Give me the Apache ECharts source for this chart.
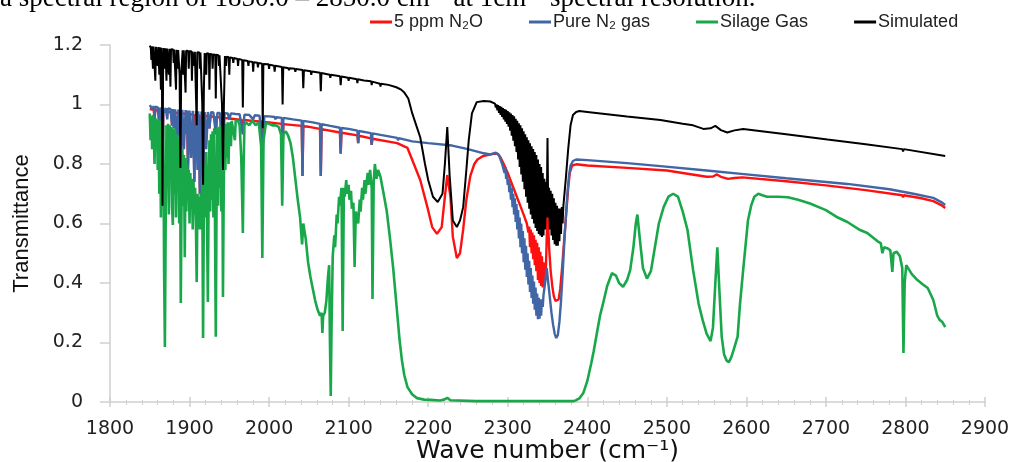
<!DOCTYPE html>
<html>
<head>
<meta charset="utf-8">
<script src="https://cdn.jsdelivr.net/npm/echarts@6/dist/echarts.min.js"></script>
<style>
  html, body { margin: 0; padding: 0; background: #fff; }
  #chart { width: 1015px; height: 462px; }
</style>
</head>
<body>
<div id="chart"></div>
<script>
// series names (legend order)
const names = ['5 ppm N₂O', 'Pure N₂ gas', 'Silage Gas', 'Simulated'];

// [wave number, transmittance]
const simulated = [
  [1850,1.198],[1851.3,1.19],[1852,1.15],[1852.7,1.196],[1853.3,1.19],[1854,1.12],[1854.7,1.195],[1856.3,1.19],[1857,1.08],[1857.7,1.194],
  [1859.3,1.19],[1860,1.13],[1860.7,1.193],[1861.3,1.19],[1862,1.10],[1862.7,1.192],[1863.3,1.19],[1864,1.05],[1864.7,1.191],[1865.3,1.10],
  [1866,0.66],[1866.7,1.10],[1867.5,1.19],[1868.3,1.19],[1869,1.12],[1869.7,1.189],[1870.3,1.189],[1871,1.08],[1871.7,1.188],[1873.3,1.188],
  [1874,1.10],[1874.7,1.187],[1875.3,1.187],[1876,1.06],[1876.7,1.186],[1879.3,1.185],[1880,1.14],[1880.7,1.185],[1882.3,1.184],[1883,1.05],
  [1883.7,1.184],[1884.3,1.184],[1885,1.12],[1885.7,1.183],[1887.5,1.10],[1888.5,0.787],[1889.5,1.10],[1891.3,1.182],[1892,1.10],[1892.7,1.182],
  [1894.3,1.181],[1895,1.04],[1895.7,1.181],[1898.3,1.18],[1899,1.12],[1899.7,1.179],[1902.3,1.179],[1903,1.08],[1903.7,1.178],[1905.3,1.178],
  [1906,1.13],[1906.7,1.177],[1908.3,1.177],[1909,0.93],[1909.7,1.176],[1912.3,1.175],[1913,1.12],[1913.7,1.175],[1916,1.00],[1917,0.73],
  [1918,1.05],[1919,1.173],[1920.3,1.173],[1921,1.10],[1921.7,1.172],[1924.3,1.171],[1925,1.05],[1925.7,1.17],[1928.3,1.169],[1929,1.12],
  [1929.7,1.168],[1932.3,1.167],[1933,1.02],[1933.7,1.167],[1936.3,1.166],[1937,1.13],[1937.7,1.165],[1940.8,1.00],[1942,0.78],[1943.2,1.00],
  [1944.5,1.163],[1945.3,1.162],[1946,1.13],[1946.7,1.161],[1949.3,1.159],[1950,1.10],[1950.7,1.158],[1954.3,1.156],[1955,1.14],[1955.7,1.156],
  [1960.3,1.153],[1961,1.13],[1961.7,1.153],[1966.2,1.15],[1967,0.99],[1967.8,1.149],[1973.3,1.146],[1974,1.13],[1974.7,1.145],[1979.3,1.143],
  [1980,1.11],[1980.7,1.142],[1985.3,1.14],[1986,1.125],[1986.7,1.14],[1991.2,1.137],[1992,0.92],[1992.8,1.136],[1999.3,1.135],[2000,1.12],
  [2000.7,1.134],[2006.3,1.13],[2007,1.11],[2007.7,1.13],[2016.2,1.126],[2017,1.00],[2017.8,1.125],[2024.3,1.122],[2025,1.115],[2025.7,1.122],
  [2032.3,1.12],[2033,1.11],[2033.7,1.119],[2042.2,1.116],[2043,1.055],[2043.8,1.115],[2052.3,1.112],[2053,1.10],[2053.7,1.111],[2064.2,1.107],
  [2065,1.045],[2065.8,1.106],[2076.3,1.10],[2077,1.09],[2077.7,1.10],[2089.2,1.095],[2090,1.065],[2090.8,1.094],[2099.3,1.09],[2100,1.08],
  [2100.7,1.09],[2110.3,1.085],[2111,1.072],[2111.7,1.085],[2119.3,1.081],[2120,1.075],[2120.7,1.081],[2128.3,1.078],[2129,1.065],[2129.7,1.077],
  [2139.3,1.07],[2140,1.06],[2140.7,1.07],[2150,1.066],[2160,1.058],[2166,1.05],[2170,1.04],[2175,1.02],[2180,0.97],[2185,0.93],
  [2190,0.89],[2196,0.80],[2200,0.746],[2206,0.69],[2212,0.672],[2218,0.70],[2221,0.80],[2224,0.924],[2227,0.76],[2231,0.61],
  [2236,0.588],[2240,0.61],[2244,0.655],[2248,0.78],[2251,0.88],[2255,0.97],[2261,1.008],[2270,1.012],[2278,1.01],[2284,1.003],
  [2285,0.99],[2286,1.0],[2287,0.98],[2288,0.998],[2289,0.972],[2290,0.995],[2291,0.965],[2292,0.992],[2293,0.958],[2294,0.988],
  [2295,0.95],[2296,0.985],[2297,0.942],[2298,0.982],[2299,0.935],[2300,0.978],[2301,0.925],[2302,0.974],[2303,0.912],[2304,0.97],
  [2305,0.895],[2306,0.965],[2307,0.878],[2308,0.96],[2309,0.86],[2310,0.952],[2311,0.84],[2312,0.945],[2313,0.815],[2314,0.937],
  [2315,0.79],[2316,0.93],[2317,0.765],[2318,0.92],[2319,0.74],[2320,0.91],[2321,0.715],[2322,0.90],[2323,0.69],[2324,0.89],
  [2325,0.67],[2326,0.88],[2327,0.65],[2328,0.87],[2329,0.63],[2330,0.86],[2331,0.615],[2332,0.85],[2333,0.60],[2334,0.84],
  [2335,0.585],[2336,0.83],[2337,0.575],[2338,0.815],[2339,0.565],[2340,0.80],[2341,0.56],[2342,0.79],[2343,0.555],[2344,0.77],
  [2345,0.56],[2346,0.75],[2347,0.58],[2348,0.74],[2349,0.62],[2350,0.887],[2351,0.62],[2352,0.72],[2353,0.58],[2354,0.71],
  [2355,0.56],[2356,0.70],[2357,0.545],[2358,0.685],[2359,0.53],[2360,0.67],[2361,0.525],[2362,0.66],[2363,0.525],[2364,0.65],
  [2365,0.54],[2366,0.65],[2367,0.565],[2368,0.655],[2369,0.60],[2370,0.66],[2373,0.75],[2376,0.85],[2379,0.93],[2382,0.965],
  [2386,0.975],[2390,0.978],[2400,0.975],[2450,0.96],[2492,0.948],[2520,0.935],[2533,0.93],[2546,0.918],[2555,0.92],[2561,0.928],
  [2568,0.914],[2576,0.906],[2585,0.913],[2596,0.918],[2650,0.90],[2702,0.882],[2750,0.866],[2796,0.85],[2797,0.842],[2798,0.85],
  [2850,0.827]
];

const pureN2 = [
  [1850,0.998],[1853,0.985],[1855,0.995],[1856,0.95],[1857,0.993],[1860,0.99],[1862,0.93],[1863,0.99],[1865,0.96],[1866,0.80],
  [1867,0.97],[1870,0.988],[1872,0.95],[1873,0.987],[1876,0.985],[1878,0.93],[1879,0.985],[1880,0.92],[1882,0.984],[1884,0.88],
  [1886,0.983],[1889,0.80],[1891,0.982],[1893,0.85],[1895,0.981],[1896,0.90],[1897,0.98],[1898,0.78],[1900,0.98],[1902,0.82],
  [1904,0.979],[1906,0.74],[1908,0.978],[1910,0.78],[1911,0.977],[1913,0.70],[1915,0.976],[1917,0.72],[1919,0.975],[1921,0.85],
  [1923,0.975],[1925,0.92],[1927,0.974],[1930,0.973],[1933,0.90],[1935,0.972],[1938,0.972],[1942,0.80],[1944,0.971],[1948,0.97],
  [1950,0.95],[1952,0.97],[1958,0.968],[1963,0.967],[1967,0.90],[1969,0.966],[1975,0.965],[1980,0.95],[1982,0.964],[1988,0.962],
  [1992,0.85],[1994,0.961],[2000,0.96],[2007,0.958],[2008,0.95],[2009,0.957],[2016,0.955],[2017,0.86],[2018,0.955],[2030,0.95],
  [2041,0.946],[2042,0.76],[2043,0.945],[2055,0.94],[2064,0.935],[2065,0.76],[2066,0.934],[2077,0.928],[2089,0.922],[2090,0.835],
  [2091,0.921],[2100,0.918],[2111,0.912],[2112,0.87],[2113,0.911],[2128,0.904],[2129,0.864],[2130,0.903],[2140,0.898],[2161,0.888],
  [2162,0.88],[2163,0.887],[2180,0.876],[2200,0.87],[2230,0.862],[2250,0.85],[2270,0.836],[2278,0.832],[2285,0.838],[2289,0.83],
  [2293,0.80],[2296,0.77],[2297,0.79],[2298,0.75],[2299,0.765],[2300,0.73],[2301,0.75],[2302,0.705],[2303,0.735],[2304,0.68],
  [2305,0.72],[2306,0.655],[2307,0.70],[2308,0.63],[2309,0.685],[2310,0.605],[2311,0.665],[2312,0.58],[2313,0.645],[2314,0.55],
  [2315,0.62],[2316,0.52],[2317,0.60],[2318,0.50],[2319,0.575],[2320,0.47],[2321,0.55],[2322,0.445],[2323,0.525],[2324,0.42],
  [2325,0.50],[2326,0.395],[2327,0.475],[2328,0.37],[2329,0.45],[2330,0.35],[2331,0.425],[2332,0.33],[2333,0.405],[2334,0.31],
  [2335,0.385],[2336,0.29],[2337,0.365],[2338,0.278],[2339,0.35],[2340,0.28],[2341,0.345],[2342,0.29],[2343,0.345],[2344,0.32],
  [2345,0.36],[2346,0.36],[2347,0.40],[2349,0.45],[2351,0.40],[2353,0.35],[2355,0.30],[2357,0.26],[2359,0.23],[2361,0.215],
  [2363,0.225],[2365,0.27],[2367,0.34],[2369,0.43],[2371,0.53],[2373,0.62],[2375,0.70],[2377,0.76],[2379,0.795],[2382,0.81],
  [2386,0.815],[2400,0.813],[2450,0.803],[2492,0.793],[2550,0.778],[2600,0.765],[2650,0.752],[2727,0.733],[2780,0.715],[2810,0.70],
  [2835,0.686],[2845,0.672],[2850,0.662]
];

const ppm5N2O = [
  [1850,0.985],[1855,0.982],[1856,0.95],[1857,0.982],[1861,0.98],[1862,0.93],[1863,0.98],[1865,0.978],[1866,0.80],[1867,0.977],
  [1872,0.975],[1877,0.974],[1878,0.93],[1879,0.973],[1888,0.971],[1889,0.80],[1890,0.97],[1897,0.968],[1898,0.78],[1899,0.967],
  [1905,0.966],[1906,0.74],[1907,0.965],[1912,0.964],[1913,0.70],[1914,0.963],[1916,0.963],[1917,0.72],[1918,0.962],[1924,0.96],
  [1925,0.92],[1926,0.96],[1932,0.958],[1933,0.90],[1934,0.958],[1941,0.956],[1942,0.80],[1943,0.955],[1950,0.953],[1966,0.948],
  [1967,0.90],[1968,0.948],[1991,0.942],[1992,0.85],[1993,0.941],[2000,0.94],[2016,0.935],[2017,0.86],[2018,0.934],[2041,0.928],
  [2042,0.76],[2043,0.927],[2050,0.925],[2064,0.918],[2065,0.76],[2066,0.917],[2089,0.906],[2090,0.835],[2091,0.905],[2111,0.896],
  [2112,0.87],[2113,0.895],[2128,0.886],[2129,0.864],[2130,0.885],[2161,0.87],[2174,0.854],[2182,0.80],[2190,0.746],[2199,0.655],
  [2205,0.588],[2211,0.565],[2217,0.588],[2221,0.69],[2224,0.763],[2228,0.69],[2231,0.555],[2236,0.484],[2240,0.50],[2244,0.58],
  [2248,0.68],[2253,0.76],[2258,0.80],[2262,0.815],[2269,0.827],[2282,0.834],[2287,0.835],[2291,0.822],[2295,0.80],[2300,0.77],
  [2305,0.735],[2310,0.70],[2315,0.665],[2320,0.63],[2324,0.60],[2326,0.57],[2327,0.59],[2328,0.52],[2329,0.58],[2330,0.50],
  [2331,0.57],[2332,0.48],[2333,0.56],[2334,0.46],[2335,0.545],[2336,0.44],[2337,0.535],[2338,0.41],[2339,0.52],[2340,0.40],
  [2341,0.505],[2342,0.39],[2343,0.49],[2344,0.385],[2345,0.47],[2346,0.40],[2347,0.46],[2348,0.45],[2350,0.652],[2352,0.52],
  [2354,0.44],[2356,0.39],[2358,0.355],[2360,0.34],[2362,0.336],[2364,0.345],[2366,0.38],[2368,0.44],[2370,0.51],[2372,0.58],
  [2374,0.65],[2376,0.72],[2378,0.77],[2381,0.795],[2386,0.799],[2400,0.795],[2450,0.787],[2500,0.778],[2550,0.757],[2558,0.758],
  [2563,0.765],[2568,0.757],[2577,0.75],[2585,0.753],[2595,0.755],[2650,0.742],[2700,0.728],[2750,0.712],[2796,0.695],[2797,0.688],
  [2798,0.695],[2820,0.685],[2835,0.675],[2845,0.662],[2850,0.652]
];

const silage = [
  [1850,0.97],[1851,0.88],[1852,0.96],[1853,0.85],[1854,0.965],[1855,0.90],[1856,0.80],[1857,0.955],[1858,0.86],[1859,0.95],
  [1860,0.78],[1861,0.95],[1862,0.70],[1863,0.945],[1864,0.62],[1865,0.94],[1866,0.66],[1867,0.93],[1868,0.45],[1869,0.185],
  [1870,0.60],[1871,0.93],[1872,0.72],[1873,0.935],[1874,0.63],[1875,0.93],[1876,0.76],[1877,0.925],[1878,0.66],[1879,0.595],
  [1880,0.92],[1881,0.70],[1882,0.91],[1883,0.62],[1884,0.90],[1885,0.72],[1886,0.89],[1887,0.60],[1888,0.86],[1889,0.333],
  [1890,0.70],[1891,0.85],[1892,0.66],[1893,0.83],[1894,0.487],[1895,0.82],[1896,0.64],[1897,0.80],[1898,0.68],[1899,0.78],
  [1900,0.60],[1901,0.77],[1902,0.65],[1903,0.75],[1904,0.58],[1905,0.74],[1906,0.63],[1907,0.72],[1908,0.60],[1909,0.403],
  [1910,0.70],[1911,0.62],[1912,0.69],[1913,0.58],[1914,0.70],[1915,0.62],[1916,0.74],[1917,0.215],[1918,0.66],[1919,0.80],
  [1920,0.62],[1921,0.84],[1922,0.60],[1923,0.336],[1924,0.70],[1925,0.88],[1926,0.64],[1927,0.90],[1928,0.68],[1929,0.91],
  [1930,0.62],[1931,0.92],[1932,0.60],[1933,0.219],[1934,0.70],[1935,0.92],[1936,0.66],[1937,0.925],[1938,0.72],[1939,0.93],
  [1940,0.64],[1941,0.92],[1942,0.353],[1943,0.72],[1944,0.93],[1945,0.78],[1946,0.935],[1947,0.82],[1948,0.94],[1949,0.80],
  [1950,0.94],[1952,0.86],[1953,0.945],[1955,0.948],[1957,0.88],[1958,0.945],[1961,0.945],[1963,0.93],[1965,0.82],[1966,0.70],
  [1967,0.568],[1968,0.80],[1969,0.93],[1971,0.94],[1975,0.93],[1979,0.945],[1983,0.93],[1987,0.94],[1990,0.86],[1991.5,0.484],
  [1993,0.88],[1996,0.937],[2000,0.935],[2004,0.93],[2008,0.93],[2012,0.925],[2015,0.90],[2016.5,0.66],[2018,0.90],[2021,0.91],
  [2024,0.895],[2027,0.87],[2030,0.82],[2033,0.75],[2036,0.68],[2039,0.62],[2041.5,0.53],[2043,0.60],[2046,0.55],[2049,0.47],
  [2052,0.42],[2055,0.38],[2058,0.34],[2061,0.31],[2064,0.29],[2066,0.30],[2067,0.232],[2068,0.29],[2070,0.30],[2072,0.34],
  [2074,0.42],[2075.5,0.46],[2076.5,0.20],[2077.5,0.02],[2078.5,0.25],[2080,0.49],[2082,0.56],[2083,0.52],[2085,0.63],[2086,0.60],
  [2088,0.69],[2089,0.66],[2091,0.72],[2092.5,0.239],[2094,0.72],[2095,0.69],[2097,0.746],[2098,0.70],[2100,0.73],[2101,0.68],
  [2103,0.71],[2104,0.65],[2106,0.67],[2107.5,0.454],[2109,0.64],[2111,0.62],[2112,0.60],[2114,0.68],[2115,0.64],[2117,0.72],
  [2118,0.68],[2120,0.746],[2121,0.70],[2124,0.77],[2125,0.73],[2127,0.78],[2129,0.72],[2130,0.346],[2131.5,0.74],[2133,0.80],
  [2135,0.75],[2137,0.78],[2140,0.757],[2144,0.70],[2148,0.64],[2152,0.55],[2156,0.45],[2161,0.30],[2164,0.21],[2167,0.14],
  [2170,0.09],[2174,0.05],[2180,0.025],[2186,0.013],[2195,0.008],[2203,0.007],[2215,0.005],[2220,0.008],[2224,0.014],[2228,0.006],
  [2260,0.003],[2300,0.003],[2340,0.003],[2383,0.003],[2386,0.006],[2390,0.012],[2395,0.03],[2400,0.07],[2405,0.13],[2408,0.17],
  [2412,0.23],[2416,0.29],[2420,0.333],[2425,0.39],[2431,0.433],[2436,0.425],[2440,0.40],[2445,0.387],[2450,0.41],[2454,0.444],
  [2458,0.52],[2461,0.60],[2463,0.63],[2466,0.55],[2470,0.45],[2475,0.415],[2480,0.44],[2485,0.52],[2490,0.60],[2496,0.655],
  [2502,0.69],[2508,0.70],[2514,0.69],[2520,0.64],[2526,0.578],[2533,0.444],[2540,0.33],[2545,0.276],[2550,0.23],[2555,0.205],
  [2558,0.25],[2561,0.40],[2563.5,0.52],[2566,0.38],[2569,0.22],[2572,0.16],[2575,0.14],[2578,0.134],[2581,0.15],[2584,0.175],
  [2589,0.22],[2592,0.33],[2596,0.444],[2602,0.61],[2606,0.66],[2610,0.69],[2615,0.70],[2620,0.695],[2626,0.69],[2640,0.69],
  [2652,0.688],[2665,0.68],[2680,0.667],[2700,0.645],[2715,0.62],[2727,0.605],[2743,0.578],[2752,0.568],[2765,0.54],[2769,0.534],
  [2771,0.50],[2773,0.52],[2777,0.517],[2781,0.51],[2783.5,0.437],[2785,0.50],[2789,0.505],[2793,0.49],[2796,0.45],[2797.5,0.165],
  [2799,0.40],[2801,0.46],[2808,0.43],[2815,0.41],[2822,0.395],[2828,0.383],[2835,0.343],[2840,0.29],[2843,0.276],[2846,0.27],
  [2850,0.252]
];

const colors = ['#ff1010', '#4166a6', '#18a84a', '#000000'];
const widths = [2.4, 2.4, 2.6, 2];
const seriesData = [ppm5N2O, pureN2, silage, simulated];

const chart = echarts.init(document.getElementById('chart'));

chart.setOption({
  animation: false,
  backgroundColor: '#fff',
  graphic: [{
    type: 'text',
    left: 0,
    top: -15,
    style: {
      text: 'a spectral region of 1850.0 – 2850.0 cm⁻¹ at 1cm⁻¹ spectral resolution.',
      font: '27px "Liberation Serif"',
      fill: '#000'
    }
  }],
  legend: {
    data: names,
    left: 365,
    top: 8,
    icon: 'rect',
    itemWidth: 22,
    itemHeight: 3,
    itemGap: 46,
    textStyle: { fontFamily: 'Liberation Sans', fontSize: 18, color: '#222', padding: [0, 0, 0, -3] }
  },
  grid: { left: 110, right: 30, top: 45, bottom: 60, outerBoundsMode: 'none' },
  xAxis: [{
    type: 'value',
    min: 1800,
    max: 2900,
    interval: 100,
    name: 'Wave number (cm⁻¹)',
    nameLocation: 'middle',
    nameGap: 37,
    nameMoveOverlap: false,
    nameTextStyle: { fontFamily: 'DejaVu Sans', fontSize: 25, color: '#111' },
    axisLine: { lineStyle: { color: '#cfcfcf', width: 1.5 } },
    axisTick: { length: 5, lineStyle: { color: '#cfcfcf', width: 1.5 } },
    minorTick: { show: true, splitNumber: 5, length: 3, lineStyle: { color: '#cfcfcf', width: 1 } },
    splitLine: { show: false },
    axisLabel: { fontFamily: 'DejaVu Sans', fontSize: 19, color: '#222', margin: 18, formatter: v => String(v) }
  }, {
    type: 'value',
    min: 1800,
    max: 2900,
    interval: 100,
    position: 'bottom',
    axisLine: { show: false },
    axisTick: { inside: true, length: 5, lineStyle: { color: '#cfcfcf', width: 1.5 } },
    minorTick: { show: true, splitNumber: 5, length: 2, lineStyle: { color: '#cfcfcf', width: 1 } },
    splitLine: { show: false },
    axisLabel: { show: false }
  }],
  yAxis: {
    type: 'value',
    min: 0,
    max: 1.2,
    interval: 0.2,
    name: 'Transmittance',
    nameLocation: 'middle',
    nameGap: 77,
    nameMoveOverlap: false,
    nameTextStyle: { fontFamily: 'Liberation Sans', fontSize: 22, color: '#111' },
    axisLine: { show: true, lineStyle: { color: '#cfcfcf', width: 1.5 } },
    axisTick: { show: true, length: 10, lineStyle: { color: '#cfcfcf', width: 1.5 } },
    splitLine: { show: false },
    axisLabel: { fontFamily: 'DejaVu Sans', fontSize: 19, color: '#222', margin: 27 }
  },
  series: names.map((n, i) => ({
    name: n,
    type: 'line',
    data: seriesData[i],
    symbol: 'none',
    color: colors[i],
    lineStyle: { color: colors[i], width: widths[i] }
  }))
});
</script>
</body>
</html>
